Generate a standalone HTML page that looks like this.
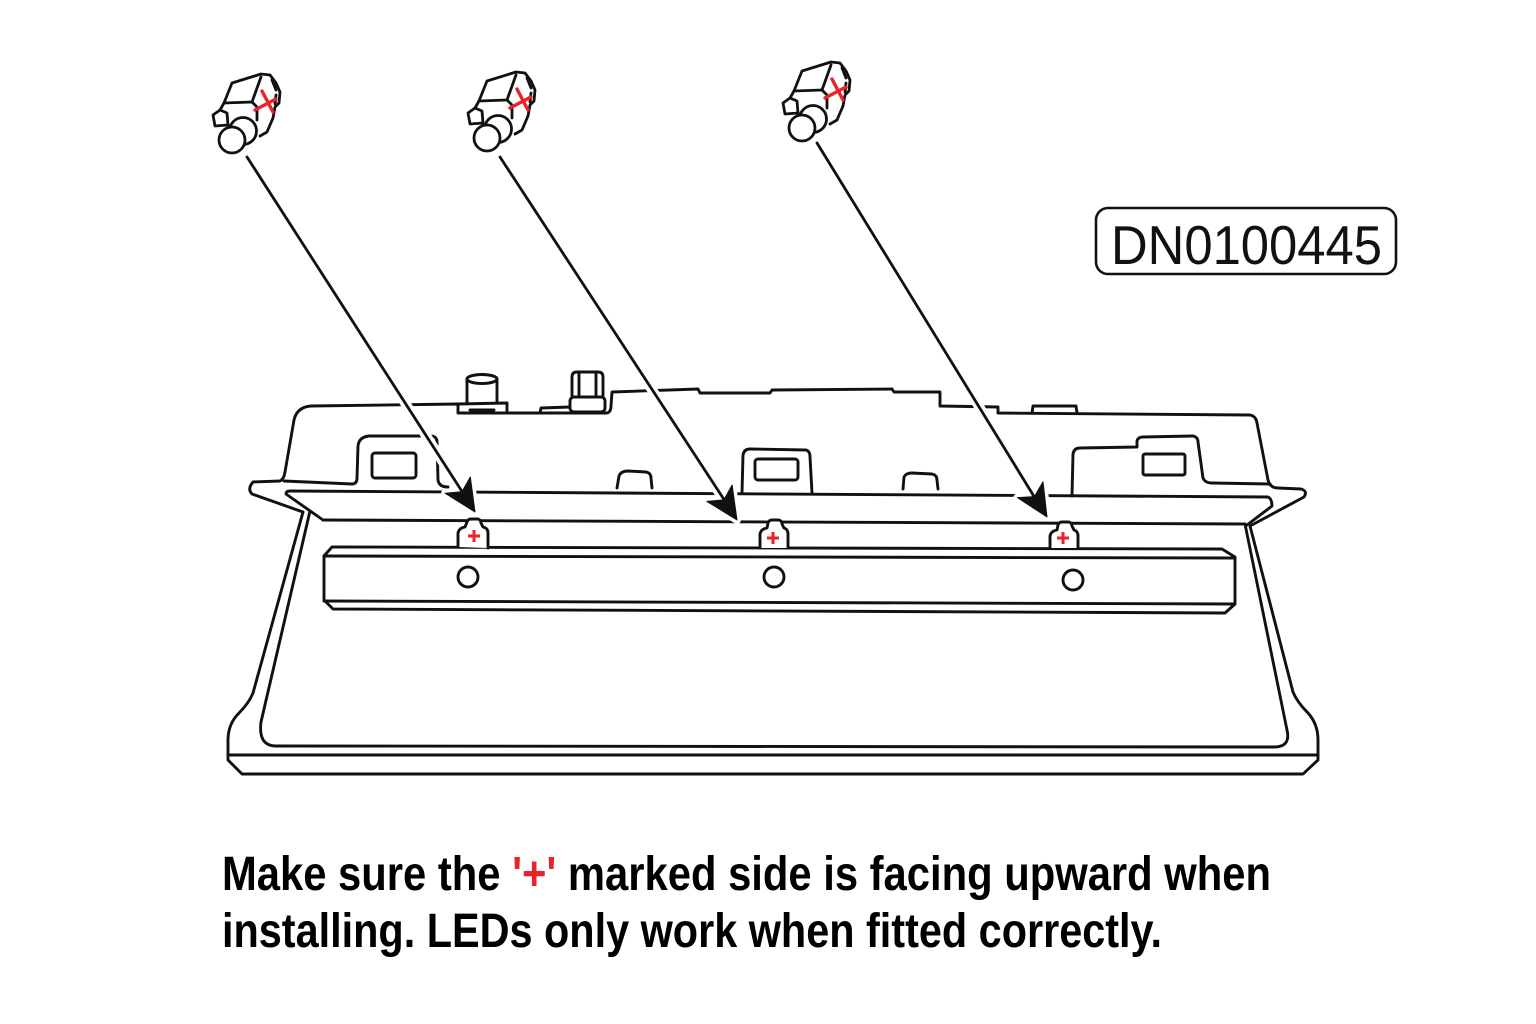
<!DOCTYPE html>
<html>
<head>
<meta charset="utf-8">
<style>
  html,body{margin:0;padding:0;background:#fff;}
  svg{display:block;}
</style>
</head>
<body>
<svg width="1536" height="1024" viewBox="0 0 1536 1024" xmlns="http://www.w3.org/2000/svg">
  <rect x="0" y="0" width="1536" height="1024" fill="#fff"/>

  <!-- ===== LED icons ===== -->
  <g fill="none" stroke="#111" stroke-width="2.8" stroke-linejoin="round" stroke-linecap="round">
    <path d="M224,103 L232,83 L261,74 L270,75 L276,83 L280,92 L279,103 L275,107 L273,118 L267,132 L260,136" fill="#fff"/>
    <path d="M252,102 L261,77"/>
    <path d="M224,103 L252,102 L257,107 L257,120"/>
    <path d="M220,110 L224,103"/>
    <path d="M220,110 L213,115 L215,126 L228,125 L227,113 Z" fill="#fff"/>
    <path d="M272,80 L276,90 M276,95 L275,104"/>
    <circle cx="243" cy="131" r="13.5" fill="#fff"/>
    <circle cx="232" cy="140" r="13" fill="#fff"/>
    <path d="M262,91 L273,112 M255,110 L276,99" stroke="#e8232b" stroke-width="3.4"/>
  </g>
  <g transform="translate(255,-2)" fill="none" stroke="#111" stroke-width="2.8" stroke-linejoin="round" stroke-linecap="round">
    <path d="M224,103 L232,83 L261,74 L270,75 L276,83 L280,92 L279,103 L275,107 L273,118 L267,132 L260,136" fill="#fff"/>
    <path d="M252,102 L261,77"/>
    <path d="M224,103 L252,102 L257,107 L257,120"/>
    <path d="M220,110 L224,103"/>
    <path d="M220,110 L213,115 L215,126 L228,125 L227,113 Z" fill="#fff"/>
    <path d="M272,80 L276,90 M276,95 L275,104"/>
    <circle cx="243" cy="131" r="13.5" fill="#fff"/>
    <circle cx="232" cy="140" r="13" fill="#fff"/>
    <path d="M262,91 L273,112 M255,110 L276,99" stroke="#e8232b" stroke-width="3.4"/>
  </g>
  <g transform="translate(570,-12)" fill="none" stroke="#111" stroke-width="2.8" stroke-linejoin="round" stroke-linecap="round">
    <path d="M224,103 L232,83 L261,74 L270,75 L276,83 L280,92 L279,103 L275,107 L273,118 L267,132 L260,136" fill="#fff"/>
    <path d="M252,102 L261,77"/>
    <path d="M224,103 L252,102 L257,107 L257,120"/>
    <path d="M220,110 L224,103"/>
    <path d="M220,110 L213,115 L215,126 L228,125 L227,113 Z" fill="#fff"/>
    <path d="M272,80 L276,90 M276,95 L275,104"/>
    <circle cx="243" cy="131" r="13.5" fill="#fff"/>
    <circle cx="232" cy="140" r="13" fill="#fff"/>
    <path d="M262,91 L273,112 M255,110 L276,99" stroke="#e8232b" stroke-width="3.4"/>
  </g>

  <!-- ===== DN label ===== -->
  <rect x="1096" y="208" width="300" height="66" rx="12" ry="12" fill="#fff" stroke="#111" stroke-width="2.6"/>
  <text x="1111" y="264" font-family="'Liberation Sans', 'DejaVu Sans', sans-serif" font-size="55" fill="#111" textLength="271" lengthAdjust="spacingAndGlyphs">DN0100445</text>

  <!-- ===== Tray ===== -->
  <g fill="none" stroke="#111" stroke-width="2.9" stroke-linejoin="round" stroke-linecap="round">
    <!-- housing outline -->
    <path d="M303,512 L252,494 Q247,489 253,482 L280,481 Q284,479 285,472 L294,420 Q297,407 311,406 L458,404 L458,413 L507,413 L607,413 Q611,412 611,406 L612,392 L698,389 L700,393 L770,393 L772,390 L892,389 L894,392 L940,392 L940,406 L998,407 L998,413 L1250,415 Q1256,416 1257,423 L1268,480 Q1270,488 1278,488 L1301,489 Q1308,491 1304,497 L1250,526"/>
    <!-- knob 1 -->
    <path d="M458,404 L507,403 L507,413"/>
    <path d="M470,410 L494,410"/>
    <path d="M467,403 L467,379 M497,379 L497,403"/>
    <ellipse cx="482" cy="379" rx="15" ry="4.5" fill="#fff"/>
    <!-- small plate + knob 2 -->
    <path d="M540,413 L541,408 L570,407"/>
    <path d="M572,398 L572,377 Q572,372 577,372 L598,372 Q603,372 603,377 L603,398" fill="#fff"/>
    <path d="M579,373 L579,397 M596,373 L596,397"/>
    <rect x="570" y="397" width="35" height="15" rx="4" fill="#fff"/>
    <!-- small bump right -->
    <path d="M1032,413 L1033,406 L1076,406 L1077,413"/>

    <!-- left pocket -->
    <path d="M284,481 L352,484 Q357,484 357,478 L358,446 Q359,437 369,436 L432,436 Q437,437 437,442 L438,480 Q439,487 448,487"/>
    <rect x="372" y="453" width="44" height="25" rx="3"/>
    <!-- arches -->
    <path d="M617,488 L619,476 Q621,471 628,471 L646,472 Q651,473 651,478 L652,488"/>
    <path d="M903,489 L904,477 Q906,473 912,473 L932,474 Q937,475 937,480 L938,489"/>
    <!-- middle pocket -->
    <path d="M742,493 L743,455 Q744,449 750,449 L806,450 Q810,451 810,457 L812,493"/>
    <rect x="755" y="459" width="43" height="21" rx="3"/>
    <!-- right pocket -->
    <path d="M1072,496 L1073,454 Q1074,448 1080,448 L1137,447 L1137,441 Q1138,437 1143,437 L1193,436 Q1198,437 1198,442 L1203,478 Q1205,483 1212,483 L1270,484"/>
    <rect x="1143" y="454" width="42" height="21" rx="2"/>

    <!-- lip line -->
    <path d="M323,520 L286,494 Q286,491 290,491 L1268,497 Q1272,499 1272,506 L1247,525"/>
    <!-- face top line -->
    <path d="M323,520 L1245,524"/>
    <!-- outer side + base -->
    <path d="M303,512 L253,693 Q249,703 239,713 Q228,724 228,740 L228,760 L242,774 L1303,774 L1318,760 L1318,740 Q1318,724 1308,713 Q1297,702 1293,692 L1250,526"/>
    <path d="M228,755 L1318,755"/>
    <!-- inner rim -->
    <path d="M310,511 L261,722 Q258,746 276,746 L1274,747 Q1291,747 1287,730 L1245,524"/>

    <!-- LED bar -->
    <path d="M332,547 L1222,549 L1235,557 L1235,604 L1225,613 L333,609 L324,600 L324,556 Z" fill="#fff"/>
    <path d="M324,556 L1235,558"/>
    <path d="M324,601 L1235,604"/>
    <circle cx="468" cy="577" r="10" fill="#fff"/>
    <circle cx="774" cy="577" r="10" fill="#fff"/>
    <circle cx="1073" cy="580" r="10" fill="#fff"/>

    <!-- tabs -->
    <path d="M458,547 L458,533 Q459,528 465,527 L467,522 Q468,519 471,519 L478,519 Q481,520 481,523 L483,527 Q488,528 488,533 L488,548" fill="#fff"/>
    <path d="M760,548 L760,534 Q761,529 767,528 L768,523 Q769,520 772,520 L779,520 Q782,521 782,524 L784,528 Q788,529 788,534 L788,548" fill="#fff"/>
    <path d="M1050,548 L1050,536 Q1051,531 1057,530 L1058,525 Q1059,522 1062,522 L1069,522 Q1072,523 1072,526 L1074,530 Q1078,531 1078,536 L1078,548" fill="#fff"/>
  </g>
  <!-- plus marks -->
  <g stroke="#e8232b" stroke-width="3" stroke-linecap="butt">
    <path d="M474,530 L474,542 M468,536 L480,536"/>
    <path d="M773,532 L773,544 M767,538 L779,538"/>
    <path d="M1063,532 L1063,544 M1057,538 L1069,538"/>
  </g>

  <!-- ===== Arrows ===== -->
  <g stroke="#fff" stroke-linecap="round" fill="#fff">
    <line x1="275" y1="200" x2="462" y2="491.8" stroke-width="10"/>
    <line x1="528" y1="200" x2="723.9" y2="499.9" stroke-width="10"/>
    <line x1="852" y1="200" x2="1034.4" y2="496.6" stroke-width="10"/>
    <path d="M475,512 L445.1,493.2 L462,491.8 L470.3,477 Z" stroke-width="8" stroke-linejoin="round"/>
    <path d="M737,520 L706.9,501.4 L723.9,499.9 L732.1,485 Z" stroke-width="8" stroke-linejoin="round"/>
    <path d="M1047,517 L1017.4,497.6 L1034.4,496.6 L1043,481.8 Z" stroke-width="8" stroke-linejoin="round"/>
  </g>
  <g stroke="#111" stroke-width="2.8" stroke-linecap="round">
    <line x1="247" y1="157" x2="463" y2="493"/>
    <line x1="500" y1="157" x2="725" y2="501"/>
    <line x1="817" y1="143" x2="1035" y2="498"/>
  </g>
  <g fill="#111" stroke="#111" stroke-width="1" stroke-linejoin="round">
    <path d="M475,512 L445.1,493.2 L462,491.8 L470.3,477 Z"/>
    <path d="M737,520 L706.9,501.4 L723.9,499.9 L732.1,485 Z"/>
    <path d="M1047,517 L1017.4,497.6 L1034.4,496.6 L1043,481.8 Z"/>
  </g>

  <!-- ===== Caption ===== -->
  <text x="222" y="890" font-family="'Liberation Sans Narrow', 'Liberation Sans', sans-serif" font-weight="bold" font-size="48" fill="#000" textLength="1049" lengthAdjust="spacingAndGlyphs">Make sure the <tspan fill="#e8232b">'+'</tspan> marked side is facing upward when</text>
  <text x="222" y="947" font-family="'Liberation Sans Narrow', 'Liberation Sans', sans-serif" font-weight="bold" font-size="48" fill="#000" textLength="940" lengthAdjust="spacingAndGlyphs">installing. LEDs only work when fitted correctly.</text>
</svg>
</body>
</html>
